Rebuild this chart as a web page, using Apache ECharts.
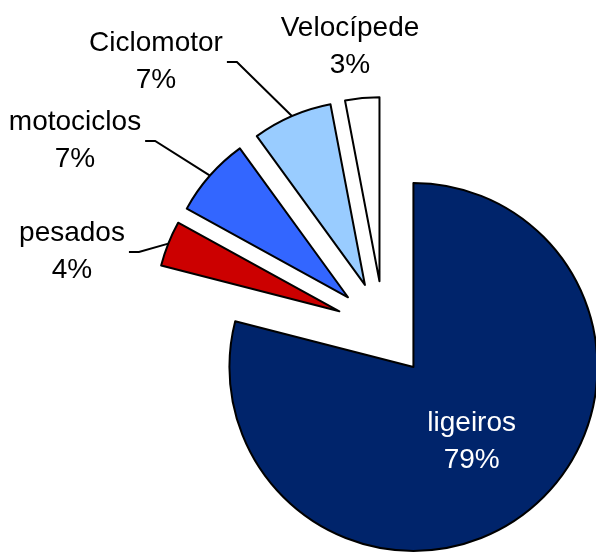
<!DOCTYPE html>
<html>
<head>
<meta charset="utf-8">
<style>
  html, body { margin: 0; padding: 0; background: #fff; }
  #chart { width: 596px; height: 552px; }
</style>
<script src="https://cdn.jsdelivr.net/npm/echarts@6/dist/echarts.min.js"></script>
</head>
<body>
<div id="chart"></div>
<script>
// dados
var categorias = ['ligeiros', 'pesados', 'motociclos', 'Ciclomotor', 'Velocípede'];
var valores = [79, 4, 7, 7, 3];
var cores = ['#00246B', '#CC0000', '#3366FF', '#99CCFF', '#FFFFFF'];

// centro das etiquetas exteriores (null = etiqueta interior)
var posEtiquetas = [null, [72, 252], [75, 141], [156, 62], [350, 47]];

var centro = [384, 329];
var raio = 184;
var afastamento = 48; // "explosão" das fatias

var myChart = echarts.init(document.getElementById('chart'));

var total = 0;
for (var k = 0; k < valores.length; k++) total += valores[k];

// uma série por fatia, cada uma deslocada ao longo da sua bissectriz
function criaSerie(idx) {
    var acum = 0;
    for (var j = 0; j < idx; j++) acum += valores[j];
    var meio = (90 - 360 * (acum + valores[idx] / 2) / total) * Math.PI / 180;
    var cx = centro[0] + Math.cos(meio) * afastamento;
    var cy = centro[1] - Math.sin(meio) * afastamento;

    var dados = [];
    for (var i = 0; i < categorias.length; i++) {
        var item = { name: categorias[i], value: valores[i] };
        if (i != idx) {
            item.itemStyle = { color: 'rgba(0,0,0,0)', borderWidth: 0 };
            item.label = { show: false };
            item.labelLine = { show: false };
        } else {
            item.itemStyle = { color: cores[i] };
            if (i == 0) item.label = { position: 'inside', color: '#fff' };
            if (i == 4) item.labelLine = { show: false };
        }
        dados.push(item);
    }

    return {
        type: 'pie',
        center: [cx, cy],
        radius: [0, raio],
        startAngle: 90,
        clockwise: true,
        silent: true,
        avoidLabelOverlap: false,
        emphasis: { disabled: true },
        itemStyle: { borderColor: '#000', borderWidth: 2 },
        label: {
            show: true,
            position: 'outside',
            formatter: '{b}\n{d}%',
            fontFamily: 'Liberation Sans',
            fontSize: 28,
            lineHeight: 37,
            color: '#000',
            align: 'center',
            padding: [0, 4]
        },
        labelLine: {
            show: true,
            length: 20,
            length2: 10,
            lineStyle: { color: '#000', width: 2 }
        },
        labelLayout: function (params) {
            var p = posEtiquetas[params.dataIndex];
            if (!p) return {};
            var res = { x: p[0], y: p[1], align: 'center', verticalAlign: 'middle' };
            var pts = params.labelLinePoints;
            if (pts && pts.length) {
                var dir = p[0] + params.labelRect.width / 2;
                res.labelLinePoints = [pts[0].slice(), [dir + 10, p[1]], [dir, p[1]]];
            }
            return res;
        },
        data: dados
    };
}

var series = [];
for (var s = 0; s < categorias.length; s++) series.push(criaSerie(s));

myChart.setOption({ animation: false, series: series });
</script>
</body>
</html>
